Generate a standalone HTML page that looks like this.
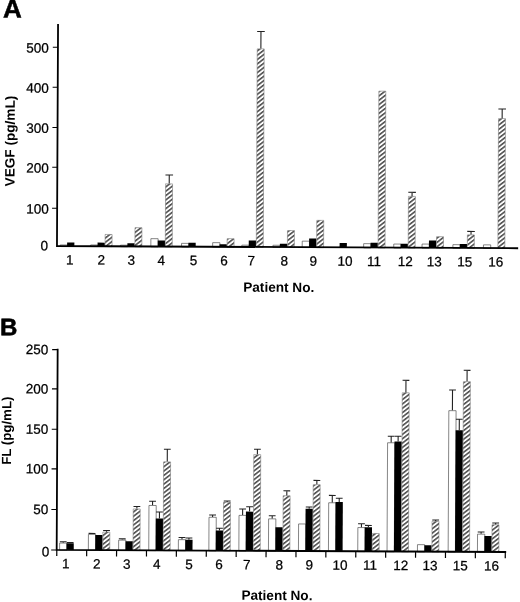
<!DOCTYPE html>
<html><head><meta charset="utf-8"><title>Figure</title>
<style>
html,body{margin:0;padding:0;background:#fff;}
body{width:520px;height:602px;overflow:hidden;font-family:"Liberation Sans",sans-serif;}
svg{display:block;filter:grayscale(1);}
.t{font-family:"Liberation Sans",sans-serif;font-size:13.5px;fill:#000;stroke:#000;stroke-width:0.25px;}
.b{font-family:"Liberation Sans",sans-serif;font-size:13.6px;font-weight:bold;fill:#000;}
.L{font-family:"Liberation Sans",sans-serif;font-size:24px;font-weight:bold;fill:#000;stroke:#000;stroke-width:0.6px;}
</style></head><body>
<svg width="520" height="602" viewBox="0 0 520 602">
<defs>
<pattern id="h" patternUnits="userSpaceOnUse" width="12" height="3.44" patternTransform="rotate(-38)">
<rect x="0" y="0" width="12" height="3.44" fill="#fff"/>
<rect x="0" y="1.1" width="12" height="1.15" fill="#0a0a0a"/>
</pattern>
</defs>
<rect width="520" height="602" fill="#fff"/>
<g transform="rotate(0.28 260 301)">
<rect x="59.93" y="245.93" width="7.25" height="1.42" fill="#fff" stroke="#444" stroke-width="0.65"/>
<rect x="66.83" y="243.35" width="7.25" height="3.65" fill="#000"/>
<rect x="90.38" y="245.78" width="7.25" height="1.57" fill="#fff" stroke="#444" stroke-width="0.65"/>
<rect x="97.28" y="243.40" width="7.25" height="3.60" fill="#000"/>
<rect x="104.83" y="235.21" width="6.95" height="12.14" fill="url(#h)" stroke="#7a7a7a" stroke-width="0.6"/>
<rect x="120.18" y="245.84" width="7.25" height="1.51" fill="#fff" stroke="#444" stroke-width="0.65"/>
<rect x="127.08" y="243.95" width="7.25" height="3.05" fill="#000"/>
<rect x="134.63" y="228.26" width="6.95" height="19.09" fill="url(#h)" stroke="#7a7a7a" stroke-width="0.6"/>
<rect x="150.58" y="239.19" width="7.25" height="8.16" fill="#fff" stroke="#444" stroke-width="0.65"/>
<rect x="157.48" y="240.90" width="7.25" height="6.10" fill="#000"/>
<rect x="165.03" y="184.32" width="6.95" height="63.03" fill="url(#h)" stroke="#7a7a7a" stroke-width="0.6"/>
<path d="M168.65 183.97V175.47M164.85 175.47H172.45" stroke="#222" stroke-width="1.1" fill="none"/>
<rect x="181.28" y="243.74" width="7.25" height="3.61" fill="#fff" stroke="#444" stroke-width="0.65"/>
<rect x="188.18" y="243.05" width="7.25" height="3.95" fill="#000"/>
<rect x="212.38" y="242.88" width="7.25" height="4.47" fill="#fff" stroke="#444" stroke-width="0.65"/>
<rect x="219.28" y="244.40" width="7.25" height="2.60" fill="#000"/>
<rect x="226.83" y="238.81" width="6.95" height="8.54" fill="url(#h)" stroke="#7a7a7a" stroke-width="0.6"/>
<rect x="241.58" y="245.24" width="7.25" height="2.11" fill="#fff" stroke="#444" stroke-width="0.65"/>
<rect x="248.48" y="240.46" width="7.25" height="6.54" fill="#000"/>
<rect x="256.03" y="48.87" width="6.95" height="198.48" fill="url(#h)" stroke="#7a7a7a" stroke-width="0.6"/>
<path d="M259.65 48.52V31.52M255.85 31.52H263.45" stroke="#222" stroke-width="1.1" fill="none"/>
<rect x="272.68" y="245.19" width="7.25" height="2.16" fill="#fff" stroke="#444" stroke-width="0.65"/>
<rect x="279.58" y="243.60" width="7.25" height="3.40" fill="#000"/>
<rect x="287.13" y="230.42" width="6.95" height="16.93" fill="url(#h)" stroke="#7a7a7a" stroke-width="0.6"/>
<rect x="301.93" y="240.94" width="7.25" height="6.41" fill="#fff" stroke="#444" stroke-width="0.65"/>
<rect x="308.83" y="238.26" width="7.25" height="8.74" fill="#000"/>
<rect x="316.38" y="220.07" width="6.95" height="27.28" fill="url(#h)" stroke="#7a7a7a" stroke-width="0.6"/>
<rect x="339.33" y="242.61" width="7.25" height="4.39" fill="#000"/>
<rect x="363.38" y="243.14" width="7.25" height="4.21" fill="#fff" stroke="#444" stroke-width="0.65"/>
<rect x="370.28" y="242.16" width="7.25" height="4.84" fill="#000"/>
<rect x="377.83" y="90.57" width="6.95" height="156.78" fill="url(#h)" stroke="#7a7a7a" stroke-width="0.6"/>
<rect x="393.48" y="243.40" width="7.25" height="3.95" fill="#fff" stroke="#444" stroke-width="0.65"/>
<rect x="400.38" y="243.01" width="7.25" height="3.99" fill="#000"/>
<rect x="407.93" y="195.63" width="6.95" height="51.72" fill="url(#h)" stroke="#7a7a7a" stroke-width="0.6"/>
<path d="M411.55 195.28V191.58M407.75 191.58H415.35" stroke="#222" stroke-width="1.1" fill="none"/>
<rect x="421.78" y="243.26" width="7.25" height="4.09" fill="#fff" stroke="#444" stroke-width="0.65"/>
<rect x="428.68" y="239.57" width="7.25" height="7.43" fill="#000"/>
<rect x="436.23" y="235.79" width="6.95" height="11.56" fill="url(#h)" stroke="#7a7a7a" stroke-width="0.6"/>
<rect x="452.63" y="243.71" width="7.25" height="3.64" fill="#fff" stroke="#444" stroke-width="0.65"/>
<rect x="459.53" y="243.02" width="7.25" height="3.98" fill="#000"/>
<rect x="467.08" y="233.84" width="6.95" height="13.51" fill="url(#h)" stroke="#7a7a7a" stroke-width="0.6"/>
<path d="M470.70 233.49V230.39M466.90 230.39H474.50" stroke="#222" stroke-width="1.1" fill="none"/>
<rect x="483.18" y="243.76" width="7.25" height="3.59" fill="#fff" stroke="#444" stroke-width="0.65"/>
<rect x="497.63" y="117.39" width="6.95" height="129.96" fill="url(#h)" stroke="#7a7a7a" stroke-width="0.6"/>
<path d="M501.25 117.04V107.84M497.45 107.84H505.05" stroke="#222" stroke-width="1.1" fill="none"/>
<path d="M56.7 25.8V247.0H517.0" stroke="#000" stroke-width="1.8" fill="none" stroke-linecap="square"/>
<path d="M51.6 48.21H56.7" stroke="#000" stroke-width="1.1"/>
<text x="47.66" y="53.61" text-anchor="end" class="t">500</text>
<path d="M51.6 88.31H56.7" stroke="#000" stroke-width="1.1"/>
<text x="47.85" y="93.71" text-anchor="end" class="t">400</text>
<path d="M51.6 128.51H56.7" stroke="#000" stroke-width="1.1"/>
<text x="48.05" y="133.91" text-anchor="end" class="t">300</text>
<path d="M51.6 168.31H56.7" stroke="#000" stroke-width="1.1"/>
<text x="48.24" y="173.71" text-anchor="end" class="t">200</text>
<path d="M51.6 209.21H56.7" stroke="#000" stroke-width="1.1"/>
<text x="48.45" y="214.61" text-anchor="end" class="t">100</text>
<text x="47.9" y="251.25" text-anchor="end" class="t">0</text>
<text x="69.70" y="265.4" text-anchor="middle" class="t">1</text>
<text x="101.00" y="265.4" text-anchor="middle" class="t">2</text>
<text x="131.10" y="265.4" text-anchor="middle" class="t">3</text>
<text x="161.00" y="265.4" text-anchor="middle" class="t">4</text>
<text x="193.30" y="265.4" text-anchor="middle" class="t">5</text>
<text x="223.90" y="265.4" text-anchor="middle" class="t">6</text>
<text x="251.00" y="265.4" text-anchor="middle" class="t">7</text>
<text x="284.20" y="265.4" text-anchor="middle" class="t">8</text>
<text x="313.10" y="265.4" text-anchor="middle" class="t">9</text>
<text x="344.80" y="265.4" text-anchor="middle" class="t">10</text>
<text x="373.90" y="265.4" text-anchor="middle" class="t">11</text>
<text x="405.00" y="265.4" text-anchor="middle" class="t">12</text>
<text x="434.20" y="265.4" text-anchor="middle" class="t">13</text>
<text x="464.60" y="265.4" text-anchor="middle" class="t">15</text>
<text x="495.70" y="265.4" text-anchor="middle" class="t">16</text>
<rect x="60.82" y="544.03" width="7.25" height="7.12" fill="#fff" stroke="#444" stroke-width="0.65"/>
<path d="M64.40 543.68V542.68M61.00 542.68H67.80" stroke="#222" stroke-width="1.1" fill="none"/>
<rect x="67.72" y="544.25" width="7.25" height="6.55" fill="#000"/>
<path d="M71.35 544.25V543.45M67.95 543.45H74.75" stroke="#222" stroke-width="1.1" fill="none"/>
<rect x="89.57" y="535.19" width="7.25" height="15.96" fill="#fff" stroke="#444" stroke-width="0.65"/>
<path d="M93.15 534.84V534.24M89.75 534.24H96.55" stroke="#222" stroke-width="1.1" fill="none"/>
<rect x="96.47" y="535.81" width="7.25" height="14.99" fill="#000"/>
<rect x="104.02" y="532.82" width="6.95" height="18.33" fill="url(#h)" stroke="#7a7a7a" stroke-width="0.6"/>
<path d="M107.65 532.47V531.27M104.25 531.27H111.05" stroke="#222" stroke-width="1.1" fill="none"/>
<rect x="119.82" y="540.84" width="7.25" height="10.31" fill="#fff" stroke="#444" stroke-width="0.65"/>
<path d="M123.40 540.49V539.49M120.00 539.49H126.80" stroke="#222" stroke-width="1.1" fill="none"/>
<rect x="126.72" y="541.96" width="7.25" height="8.84" fill="#000"/>
<rect x="134.27" y="509.57" width="6.95" height="41.58" fill="url(#h)" stroke="#7a7a7a" stroke-width="0.6"/>
<path d="M137.90 509.22V507.12M134.50 507.12H141.30" stroke="#222" stroke-width="1.1" fill="none"/>
<rect x="149.97" y="506.00" width="7.25" height="45.15" fill="#fff" stroke="#444" stroke-width="0.65"/>
<path d="M153.55 505.65V501.75M150.15 501.75H156.95" stroke="#222" stroke-width="1.1" fill="none"/>
<rect x="156.87" y="519.01" width="7.25" height="31.79" fill="#000"/>
<path d="M160.50 519.01V512.51M157.10 512.51H163.90" stroke="#222" stroke-width="1.1" fill="none"/>
<rect x="164.42" y="462.33" width="6.95" height="88.82" fill="url(#h)" stroke="#7a7a7a" stroke-width="0.6"/>
<path d="M168.05 461.98V449.68M164.65 449.68H171.45" stroke="#222" stroke-width="1.1" fill="none"/>
<rect x="179.57" y="540.05" width="7.25" height="11.10" fill="#fff" stroke="#444" stroke-width="0.65"/>
<path d="M183.15 539.70V537.90M179.75 537.90H186.55" stroke="#222" stroke-width="1.1" fill="none"/>
<rect x="186.47" y="540.17" width="7.25" height="10.63" fill="#000"/>
<path d="M190.10 540.17V538.37M186.70 538.37H193.50" stroke="#222" stroke-width="1.1" fill="none"/>
<rect x="210.07" y="517.50" width="7.25" height="33.65" fill="#fff" stroke="#444" stroke-width="0.65"/>
<path d="M213.65 517.15V515.25M210.25 515.25H217.05" stroke="#222" stroke-width="1.1" fill="none"/>
<rect x="216.97" y="530.72" width="7.25" height="20.08" fill="#000"/>
<path d="M220.60 530.72V528.42M217.20 528.42H224.00" stroke="#222" stroke-width="1.1" fill="none"/>
<rect x="224.52" y="502.43" width="6.95" height="48.72" fill="url(#h)" stroke="#7a7a7a" stroke-width="0.6"/>
<path d="M228.15 502.08V501.18M224.75 501.18H231.55" stroke="#222" stroke-width="1.1" fill="none"/>
<rect x="240.07" y="515.46" width="7.25" height="35.69" fill="#fff" stroke="#444" stroke-width="0.65"/>
<path d="M243.65 515.11V509.11M240.25 509.11H247.05" stroke="#222" stroke-width="1.1" fill="none"/>
<rect x="246.97" y="511.67" width="7.25" height="39.13" fill="#000"/>
<path d="M250.60 511.67V506.77M247.20 506.77H254.00" stroke="#222" stroke-width="1.1" fill="none"/>
<rect x="254.52" y="454.68" width="6.95" height="96.47" fill="url(#h)" stroke="#7a7a7a" stroke-width="0.6"/>
<path d="M258.15 454.33V449.23M254.75 449.23H261.55" stroke="#222" stroke-width="1.1" fill="none"/>
<rect x="269.67" y="518.81" width="7.25" height="32.34" fill="#fff" stroke="#444" stroke-width="0.65"/>
<path d="M273.25 518.46V515.66M269.85 515.66H276.65" stroke="#222" stroke-width="1.1" fill="none"/>
<rect x="276.57" y="527.22" width="7.25" height="23.58" fill="#000"/>
<rect x="284.12" y="495.64" width="6.95" height="55.51" fill="url(#h)" stroke="#7a7a7a" stroke-width="0.6"/>
<path d="M287.75 495.29V490.69M284.35 490.69H291.15" stroke="#222" stroke-width="1.1" fill="none"/>
<rect x="299.67" y="523.76" width="7.25" height="27.39" fill="#fff" stroke="#444" stroke-width="0.65"/>
<rect x="306.57" y="508.58" width="7.25" height="42.22" fill="#000"/>
<path d="M310.20 508.58V506.78M306.80 506.78H313.60" stroke="#222" stroke-width="1.1" fill="none"/>
<rect x="314.12" y="484.39" width="6.95" height="66.76" fill="url(#h)" stroke="#7a7a7a" stroke-width="0.6"/>
<path d="M317.75 484.04V480.14M314.35 480.14H321.15" stroke="#222" stroke-width="1.1" fill="none"/>
<rect x="329.67" y="502.42" width="7.25" height="48.73" fill="#fff" stroke="#444" stroke-width="0.65"/>
<path d="M333.25 502.07V495.07M329.85 495.07H336.65" stroke="#222" stroke-width="1.1" fill="none"/>
<rect x="336.57" y="501.53" width="7.25" height="49.27" fill="#000"/>
<path d="M340.20 501.53V497.83M336.80 497.83H343.60" stroke="#222" stroke-width="1.1" fill="none"/>
<rect x="358.97" y="527.07" width="7.25" height="24.08" fill="#fff" stroke="#444" stroke-width="0.65"/>
<path d="M362.55 526.72V523.22M359.15 523.22H365.95" stroke="#222" stroke-width="1.1" fill="none"/>
<rect x="365.87" y="526.69" width="7.25" height="24.11" fill="#000"/>
<path d="M369.50 526.69V524.89M366.10 524.89H372.90" stroke="#222" stroke-width="1.1" fill="none"/>
<rect x="373.42" y="532.90" width="6.95" height="18.25" fill="url(#h)" stroke="#7a7a7a" stroke-width="0.6"/>
<rect x="388.27" y="442.13" width="7.25" height="109.02" fill="#fff" stroke="#444" stroke-width="0.65"/>
<path d="M391.85 441.78V435.58M388.45 435.58H395.25" stroke="#222" stroke-width="1.1" fill="none"/>
<rect x="395.17" y="440.74" width="7.25" height="110.06" fill="#000"/>
<path d="M398.80 440.74V435.54M395.40 435.54H402.20" stroke="#222" stroke-width="1.1" fill="none"/>
<rect x="402.72" y="392.06" width="6.95" height="159.09" fill="url(#h)" stroke="#7a7a7a" stroke-width="0.6"/>
<path d="M406.35 391.71V379.61M402.95 379.61H409.75" stroke="#222" stroke-width="1.1" fill="none"/>
<rect x="418.67" y="543.88" width="7.25" height="7.27" fill="#fff" stroke="#444" stroke-width="0.65"/>
<rect x="425.57" y="544.49" width="7.25" height="6.31" fill="#000"/>
<rect x="433.12" y="520.41" width="6.95" height="30.74" fill="url(#h)" stroke="#7a7a7a" stroke-width="0.6"/>
<path d="M436.75 520.06V519.16M433.35 519.16H440.15" stroke="#222" stroke-width="1.1" fill="none"/>
<rect x="449.37" y="409.73" width="7.25" height="141.42" fill="#fff" stroke="#444" stroke-width="0.65"/>
<path d="M452.95 409.38V389.08M449.55 389.08H456.35" stroke="#222" stroke-width="1.1" fill="none"/>
<rect x="456.27" y="429.34" width="7.25" height="121.46" fill="#000"/>
<path d="M459.90 429.34V418.24M456.50 418.24H463.30" stroke="#222" stroke-width="1.1" fill="none"/>
<rect x="463.82" y="380.66" width="6.95" height="170.49" fill="url(#h)" stroke="#7a7a7a" stroke-width="0.6"/>
<path d="M467.45 380.31V369.31M464.05 369.31H470.85" stroke="#222" stroke-width="1.1" fill="none"/>
<rect x="478.67" y="533.09" width="7.25" height="18.06" fill="#fff" stroke="#444" stroke-width="0.65"/>
<path d="M482.25 532.74V530.94M478.85 530.94H485.65" stroke="#222" stroke-width="1.1" fill="none"/>
<rect x="485.57" y="534.80" width="7.25" height="16.00" fill="#000"/>
<rect x="493.12" y="523.62" width="6.95" height="27.53" fill="url(#h)" stroke="#7a7a7a" stroke-width="0.6"/>
<path d="M496.75 523.27V521.87M493.35 521.87H500.15" stroke="#222" stroke-width="1.1" fill="none"/>
<path d="M57.9 350.6V550.8H506.50" stroke="#000" stroke-width="1.8" fill="none" stroke-linecap="square"/>
<path d="M58.00 550.8V557.10" stroke="#000" stroke-width="1.2"/>
<path d="M87.90 550.8V557.10" stroke="#000" stroke-width="1.2"/>
<path d="M117.80 550.8V557.10" stroke="#000" stroke-width="1.2"/>
<path d="M147.70 550.8V557.10" stroke="#000" stroke-width="1.2"/>
<path d="M177.60 550.8V557.10" stroke="#000" stroke-width="1.2"/>
<path d="M207.50 550.8V557.10" stroke="#000" stroke-width="1.2"/>
<path d="M237.40 550.8V557.10" stroke="#000" stroke-width="1.2"/>
<path d="M267.30 550.8V557.10" stroke="#000" stroke-width="1.2"/>
<path d="M297.20 550.8V557.10" stroke="#000" stroke-width="1.2"/>
<path d="M327.10 550.8V557.10" stroke="#000" stroke-width="1.2"/>
<path d="M357.00 550.8V557.10" stroke="#000" stroke-width="1.2"/>
<path d="M386.90 550.8V557.10" stroke="#000" stroke-width="1.2"/>
<path d="M416.80 550.8V557.10" stroke="#000" stroke-width="1.2"/>
<path d="M446.70 550.8V557.10" stroke="#000" stroke-width="1.2"/>
<path d="M476.60 550.8V557.10" stroke="#000" stroke-width="1.2"/>
<path d="M506.50 550.8V557.10" stroke="#000" stroke-width="1.2"/>
<path d="M52.4 350.61H57.9" stroke="#000" stroke-width="1.1"/>
<text x="48.54" y="355.21" text-anchor="end" class="t">250</text>
<path d="M52.4 389.91H57.9" stroke="#000" stroke-width="1.1"/>
<text x="48.73" y="394.51" text-anchor="end" class="t">200</text>
<path d="M52.4 430.31H57.9" stroke="#000" stroke-width="1.1"/>
<text x="48.93" y="434.91" text-anchor="end" class="t">150</text>
<path d="M52.4 469.91H57.9" stroke="#000" stroke-width="1.1"/>
<text x="49.12" y="474.51" text-anchor="end" class="t">100</text>
<path d="M52.4 510.51H57.9" stroke="#000" stroke-width="1.1"/>
<text x="49.32" y="515.11" text-anchor="end" class="t">50</text>
<path d="M52.4 551.01H57.9" stroke="#000" stroke-width="1.1"/>
<text x="50.60" y="557.41" text-anchor="end" class="t">0</text>
<text x="67.09" y="569.3" text-anchor="middle" class="t">1</text>
<text x="98.09" y="569.3" text-anchor="middle" class="t">2</text>
<text x="128.19" y="569.3" text-anchor="middle" class="t">3</text>
<text x="158.09" y="569.3" text-anchor="middle" class="t">4</text>
<text x="190.39" y="569.3" text-anchor="middle" class="t">5</text>
<text x="220.39" y="569.3" text-anchor="middle" class="t">6</text>
<text x="248.09" y="569.3" text-anchor="middle" class="t">7</text>
<text x="280.69" y="569.3" text-anchor="middle" class="t">8</text>
<text x="310.49" y="569.3" text-anchor="middle" class="t">9</text>
<text x="341.29" y="569.3" text-anchor="middle" class="t">10</text>
<text x="371.29" y="569.3" text-anchor="middle" class="t">11</text>
<text x="402.09" y="569.3" text-anchor="middle" class="t">12</text>
<text x="431.29" y="569.3" text-anchor="middle" class="t">13</text>
<text x="461.49" y="569.3" text-anchor="middle" class="t">15</text>
<text x="492.79" y="569.3" text-anchor="middle" class="t">16</text>
<text x="1.5" y="18.8" class="L" style="font-size:26px;stroke-width:0.5px">A</text>
<text x="0.1" y="336.6" class="L">B</text>
<text transform="translate(13.9 187.6) rotate(-90)" class="b">VEGF (pg/mL)</text>
<text transform="translate(11.8 466.0) rotate(-90)" class="b" style="font-size:13.25px">FL (pg/mL)</text>
<text x="243.2" y="291.8" class="b">Patient No.</text>
<text x="242.9" y="599.9" class="b">Patient No.</text>
</g>
</svg>
</body></html>
